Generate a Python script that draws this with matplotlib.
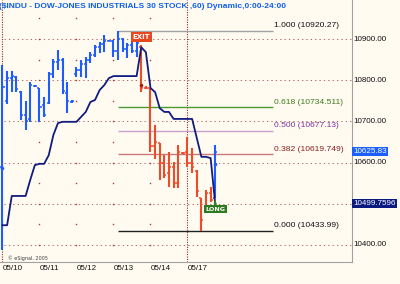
import matplotlib.pyplot as plt

# hourly bars, 8 per session
dates = ["05/10", "05/11", "05/12", "05/13", "05/14", "05/17"]
bars_per_day = 8

opens = [10590, 10750, 10805, 10808, 10772, 10716, 10705, 10786,
         10780, 10740, 10745, 10815, 10845, 10850, 10770, 10748,
         10815, 10825, 10840, 10850, 10860, 10880, 10888, 10896,
         10896, 10870, 10900, 10875, 10885, 10870, 10880, 10781,
         10780, 10640, 10648, 10600, 10575, 10590, 10550, 10624,
         10625, 10600, 10580, 10514, 10490, 10525, 10515]
highs = [10837, 10822, 10822, 10810, 10774, 10749, 10796, 10788,
         10781, 10759, 10820, 10851, 10873, 10854, 10796, 10752,
         10832, 10849, 10856, 10868, 10885, 10893, 10910, 10897,
         10897, 10920.27, 10902, 10890, 10893, 10897, 10885, 10785,
         10781, 10691, 10648, 10618, 10626, 10601, 10643, 10625,
         10662, 10635, 10582, 10514, 10533, 10541, 10643]
lows = [10388, 10742, 10771, 10771, 10703, 10679, 10699, 10783,
        10699, 10711, 10742, 10805, 10825, 10766, 10720, 10745,
        10808, 10808, 10805, 10842, 10856, 10866, 10868, 10895,
        10856, 10849, 10868, 10854, 10866, 10856, 10771, 10778,
        10626, 10609, 10558, 10563, 10541, 10538, 10538, 10621,
        10589, 10575, 10516, 10433.99, 10485, 10504, 10514]
closes = [10783, 10805, 10810, 10778, 10716, 10700, 10788, 10785,
          10735, 10715, 10815, 10845, 10849, 10775, 10749, 10750,
          10825, 10840, 10850, 10860, 10880, 10888, 10895, 10896,
          10870, 10900, 10875, 10885, 10870, 10890, 10781, 10780,
          10640, 10650, 10600, 10570, 10590, 10550, 10625, 10623,
          10600, 10590, 10530, 10460, 10525, 10510, 10625.83]
# trailing stop line
stop = [10448, 10448, 10519, 10519, 10519, 10519, 10558, 10594,
        10597, 10597, 10618, 10667, 10696, 10699, 10699, 10699,
        10699, 10711, 10723, 10747, 10752, 10776, 10788, 10805,
        10810, 10810, 10810, 10810, 10810, 10810, 10880, 10868,
        10781, 10771, 10732, 10723, 10723, 10706, 10706, 10706,
        10706, 10706, 10660, 10614, 10614, 10611, 10499.7596]

exit_bar = 30
long_bar = 46
dot_bars = [0, 30, 46]
dot_prices = [10587, 10788, 10597]

swing_hi_bar, swing_lo_bar = 25, 43
fib_ratios = [1.0, 0.618, 0.5, 0.382, 0.0]
fib_line_colors = ["#a0a0a0", "#4c9a30", "#c8a0d0", "#c87878", "#202020"]
fib_text_colors = ["#101010", "#3c7a20", "#8030a0", "#8a2020", "#101010"]

grid_prices = [10400, 10500, 10600, 10700, 10800, 10900]

bg = "#fffbf0"
blue = "#1f5cff"
red = "#f04a28"
navy = "#101c80"

fig = plt.figure(figsize=(4, 2.84), dpi=100, facecolor=bg)
ax = fig.add_axes([0, 22 / 284, 352 / 400, 262 / 284], facecolor=bg)
ax.set_xlim(-0.54, 75.57)
ax.set_ylim(10358.7, 10994.7)
ax.set_xticks([])
ax.set_yticks([])
for s in ["top", "left"]:
    ax.spines[s].set_visible(False)
for s in ["right", "bottom"]:
    ax.spines[s].set_color("#a0a0a0")
    ax.spines[s].set_linewidth(0.8)

n = len(closes)
idx = list(range(n))
xmax = ax.get_xlim()[1]

# grid
for p in grid_prices:
    ax.hlines(p, 0.3, xmax, color="#b86060", lw=0.7, linestyles=(0, (1.3, 3.2)), zorder=1)
day_starts = [d * bars_per_day for d in range(len(dates))]
dot_levels = [10400 + 50 * k for k in range(12)]
for i, d in zip(day_starts, dates):
    if d in ("05/10", "05/17"):
        ax.axvline(i, color="#902828", lw=0.8, ls=(0, (1, 1.2)), zorder=1)
    else:
        ax.plot([i] * len(dot_levels), dot_levels, ls="none", marker="s",
                ms=1.0, mew=0, color="#a04040", zorder=1)
    ax.text(i, -0.025, d, transform=ax.get_xaxis_transform(), ha="left", va="center",
            fontsize=5.8, family="Liberation Sans", color="#101010", clip_on=False)

# fibonacci retracement
hi, lo = highs[swing_hi_bar], lows[swing_lo_bar]
fib_end = 58.4
for r, lc, tc in zip(fib_ratios, fib_line_colors, fib_text_colors):
    v = lo + r * (hi - lo)
    ax.hlines(v, swing_hi_bar, fib_end, color=lc, lw=1.0, zorder=2)
    val = f"{round(v, 3):.3f}".rstrip("0").rstrip(".")
    ax.annotate(f"{r:.3f} ({val})", (fib_end, v), xytext=(1, 1.2), textcoords="offset points",
                ha="left", va="bottom", fontsize=6.1, family="Liberation Sans", color=tc)

# OHLC bars
for i in idx:
    c = red if exit_bar <= i < long_bar else blue
    ax.vlines(i, lows[i], highs[i], color=c, lw=1.5, zorder=3)
    ax.hlines(opens[i], i - 0.45, i, color=c, lw=1.1, zorder=3)
    ax.hlines(closes[i], i, i + 0.45, color=c, lw=1.1, zorder=3)

ax.plot(idx, stop, color=navy, lw=1.3, zorder=4)

for b, p in zip(dot_bars, dot_prices):
    c = "#a02010" if b == exit_bar else blue
    ax.plot(b, p, "o", ms=2.6, color=c, mew=0, zorder=5)

# signals
ax.annotate("EXIT", (exit_bar, highs[exit_bar]), xytext=(0, 6), textcoords="offset points",
            ha="center", va="center", fontsize=5.0, weight="bold", color="white",
            family="DejaVu Sans",
            bbox=dict(boxstyle="square,pad=0.25", fc="#e84820", ec="none"), zorder=6)
ax.annotate("", xy=(long_bar, lows[long_bar]), xytext=(0, -4), textcoords="offset points",
            arrowprops=dict(arrowstyle="-|>", color="#2e8a1e", lw=0.8, mutation_scale=4), zorder=6)
ax.annotate("LONG", (long_bar, lows[long_bar]), xytext=(0, -8), textcoords="offset points",
            ha="center", va="center", fontsize=4.6, weight="bold", color="white",
            family="DejaVu Sans",
            bbox=dict(boxstyle="square,pad=0.25", fc="#2e7a1e", ec="none"), zorder=6)

# price scale (the stop label hides the 10500 one)
yt = ax.get_yaxis_transform()
for p in grid_prices:
    if abs(p - stop[-1]) < 10 or abs(p - closes[-1]) < 10:
        continue
    ax.text(1.004, p, f"{p:.2f}", transform=yt, ha="left", va="center", fontsize=5.8,
            family="Liberation Sans", color="#101010", clip_on=False, zorder=7)
ax.text(1.004, closes[-1], f"{closes[-1]:.2f}", transform=yt, ha="left", va="center",
        fontsize=5.8, family="Liberation Sans", color="white", clip_on=False, zorder=8,
        bbox=dict(boxstyle="square,pad=0.12", fc="#1a60ff", ec="none"))
ax.text(1.004, stop[-1], f"{stop[-1]:.4f}", transform=yt, ha="left", va="center",
        fontsize=5.8, family="Liberation Sans", color="white", clip_on=False, zorder=8,
        bbox=dict(boxstyle="square,pad=0.12", fc="#0a1a80", ec="none"))

ax.text(-0.003, 1 - 7 / 262, "($INDU - DOW-JONES INDUSTRIALS 30 STOCK ,60) Dynamic,0:00-24:00",
        transform=ax.transAxes, ha="left", va="center", fontsize=6.0, weight="bold",
        family="Liberation Sans", color="#1060e8", zorder=7)
ax.text(0.022, 0.015, "\u00a9 eSignal, 2005", transform=ax.transAxes, ha="left", va="center",
        fontsize=3.5, color="#404040", zorder=7)

fig.savefig("out.png", dpi=100, facecolor=bg)
